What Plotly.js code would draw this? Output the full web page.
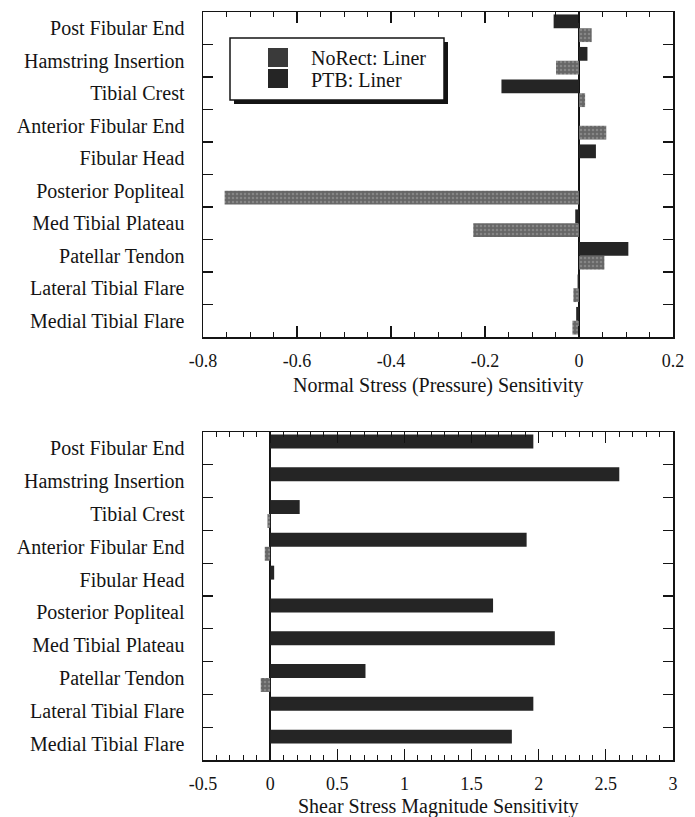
<!DOCTYPE html>
<html>
<head>
<meta charset="utf-8">
<script src="https://cdn.plot.ly/plotly-3.0.1.min.js"></script>
<style>
  html, body { margin: 0; padding: 0; background: #fff; }
  #chart { width: 695px; height: 817px; }
</style>
</head>
<body>
<div id="chart"></div>
<script>
// Sensitivity of liner stresses at each residual-limb site, two socket designs.
const categories = [
  "Post Fibular End",
  "Hamstring Insertion",
  "Tibial Crest",
  "Anterior Fibular End",
  "Fibular Head",
  "Posterior Popliteal",
  "Med Tibial Plateau",
  "Patellar Tendon",
  "Lateral Tibial Flare",
  "Medial Tibial Flare"
];

const seriesNames = ["NoRect: Liner", "PTB: Liner"];

// Normal stress (pressure) sensitivity
const normalNoRect = [0.027, -0.049, 0.013, 0.058, 0.0, -0.754, -0.225, 0.054, -0.012, -0.014];
const normalPTB    = [-0.054, 0.018, -0.165, 0.0, 0.036, 0.0, -0.008, 0.105, -0.003, -0.006];

// Shear stress magnitude sensitivity
const shearNoRect = [0.0, 0.0, -0.02, -0.04, 0.0, 0.0, 0.0, -0.07, 0.0, 0.0];
const shearPTB    = [1.96, 2.60, 0.22, 1.91, 0.03, 1.66, 2.12, 0.71, 1.96, 1.80];

const normalTickVals = [-0.8, -0.6, -0.4, -0.2, 0, 0.2];
const normalTickText = ["-0.8", "-0.6", "-0.4", "-0.2", "0", "0.2"];
const shearTickVals  = [-0.5, 0, 0.5, 1, 1.5, 2, 2.5, 3];
const shearTickText  = ["-0.5", "0", "0.5", "1", "1.5", "2", "2.5", "3"];

const axisTitles = ["Normal Stress (Pressure) Sensitivity", "Shear Stress Magnitude Sensitivity"];

const SERIF = "'Liberation Serif', 'Times New Roman', serif";
const INK = "#141414";
const NORECT_FILL = "#666666";
const PTB_FILL = "#252525";

function noRectMarker() {
  return {
    color: NORECT_FILL,
    line: { width: 0 },
    pattern: { shape: ".", fillmode: "overlay", fgcolor: "#a6a6a6", size: 4, solidity: 0.3 }
  };
}
function ptbMarker() {
  return { color: PTB_FILL, line: { width: 0 } };
}

const traces = [
  { type: "bar", orientation: "h", name: seriesNames[0], y: categories, x: normalNoRect,
    xaxis: "x", yaxis: "y", marker: noRectMarker(), showlegend: false },
  { type: "bar", orientation: "h", name: seriesNames[1], y: categories, x: normalPTB,
    xaxis: "x", yaxis: "y", marker: ptbMarker(), showlegend: false },
  { type: "bar", orientation: "h", name: seriesNames[0], y: categories, x: shearNoRect,
    xaxis: "x2", yaxis: "y2", marker: noRectMarker(), showlegend: false },
  { type: "bar", orientation: "h", name: seriesNames[1], y: categories, x: shearPTB,
    xaxis: "x2", yaxis: "y2", marker: ptbMarker(), showlegend: false }
];

function categoryAxis(domain, anchor) {
  return {
    domain: domain,
    anchor: anchor,
    type: "category",
    categoryorder: "array",
    categoryarray: categories.slice().reverse(),
    tickson: "boundaries",
    ticks: "inside",
    ticklen: 10,
    tickwidth: 1.2,
    tickcolor: INK,
    showline: true,
    linecolor: INK,
    linewidth: 1.5,
    mirror: "ticks",
    showgrid: false,
    zeroline: false,
    ticklabelstandoff: 13,
    tickfont: { family: SERIF, size: 20, color: INK },
    fixedrange: true
  };
}

function valueAxis(anchor, range, tickvals, ticktext, minorStep) {
  return {
    anchor: anchor,
    domain: [0, 1],
    range: range,
    tickmode: "array",
    tickvals: tickvals,
    ticktext: ticktext,
    ticks: "inside",
    ticklen: 11,
    tickwidth: 1.2,
    tickcolor: INK,
    minor: { tickmode: "linear", tick0: 0, dtick: minorStep, ticks: "inside", ticklen: 5,
             tickwidth: 1, tickcolor: INK, showgrid: false },
    showline: true,
    linecolor: INK,
    linewidth: 1.5,
    mirror: "ticks",
    showgrid: false,
    zeroline: true,
    zerolinecolor: INK,
    zerolinewidth: 1.3,
    ticklabelstandoff: 7,
    tickfont: { family: SERIF, size: 18, color: INK },
    fixedrange: true
  };
}

// Plot frames: top 12..337 px, bottom 432..760 px, x 203..673 px
const W = 695, H = 817;
const M = { l: 203, r: 22, t: 12, b: 57 };
const plotW = W - M.l - M.r;
const plotH = H - M.t - M.b;
const px = v => (v - M.l) / plotW;
const py = v => (H - M.b - v) / plotH;

// Legend box with drop shadow, swatches and labels
const legendShapes = [
  { type: "rect", xref: "paper", yref: "paper", layer: "above",
    x0: px(234), x1: px(448), y0: py(104), y1: py(42),
    fillcolor: INK, line: { width: 0 } },
  { type: "rect", xref: "paper", yref: "paper", layer: "above",
    x0: px(230), x1: px(444), y0: py(100), y1: py(38),
    fillcolor: "#ffffff", line: { color: INK, width: 1.5 } },
  { type: "rect", xref: "paper", yref: "paper", layer: "above",
    x0: px(268), x1: px(288), y0: py(67), y1: py(48),
    fillcolor: "#3a3a3a", line: { width: 0 } },
  { type: "rect", xref: "paper", yref: "paper", layer: "above",
    x0: px(268), x1: px(288), y0: py(88), y1: py(69),
    fillcolor: PTB_FILL, line: { width: 0 } }
];
const legendLabels = [
  { text: seriesNames[0], xref: "paper", yref: "paper", x: px(309), y: py(58),
    xanchor: "left", yanchor: "middle", showarrow: false,
    font: { family: SERIF, size: 20, color: INK } },
  { text: seriesNames[1], xref: "paper", yref: "paper", x: px(309), y: py(80),
    xanchor: "left", yanchor: "middle", showarrow: false,
    font: { family: SERIF, size: 20, color: INK } }
];

// Axis titles set just under the tick labels of each panel
const titleLabels = [
  { text: axisTitles[0], xref: "paper", yref: "paper", x: 0.5, y: py(385),
    xanchor: "center", yanchor: "middle", showarrow: false,
    font: { family: SERIF, size: 20, color: INK } },
  { text: axisTitles[1], xref: "paper", yref: "paper", x: 0.5, y: py(806),
    xanchor: "center", yanchor: "middle", showarrow: false,
    font: { family: SERIF, size: 20, color: INK } }
];

const layout = {
  width: W,
  height: H,
  margin: M,
  paper_bgcolor: "#ffffff",
  plot_bgcolor: "#ffffff",
  barmode: "group",
  bargap: 0.15,
  bargroupgap: 0,
  showlegend: false,
  font: { family: SERIF, color: INK },
  xaxis: valueAxis("y", [-0.8, 0.2], normalTickVals, normalTickText, 0.05),
  yaxis: categoryAxis([py(337), 1], "x"),
  xaxis2: valueAxis("y2", [-0.5, 3], shearTickVals, shearTickText, 0.1),
  yaxis2: categoryAxis([0, py(432)], "x2"),
  shapes: legendShapes,
  annotations: legendLabels.concat(titleLabels)
};

Plotly.newPlot("chart", traces, layout, { displayModeBar: false, staticPlot: true });
</script>
</body>
</html>
